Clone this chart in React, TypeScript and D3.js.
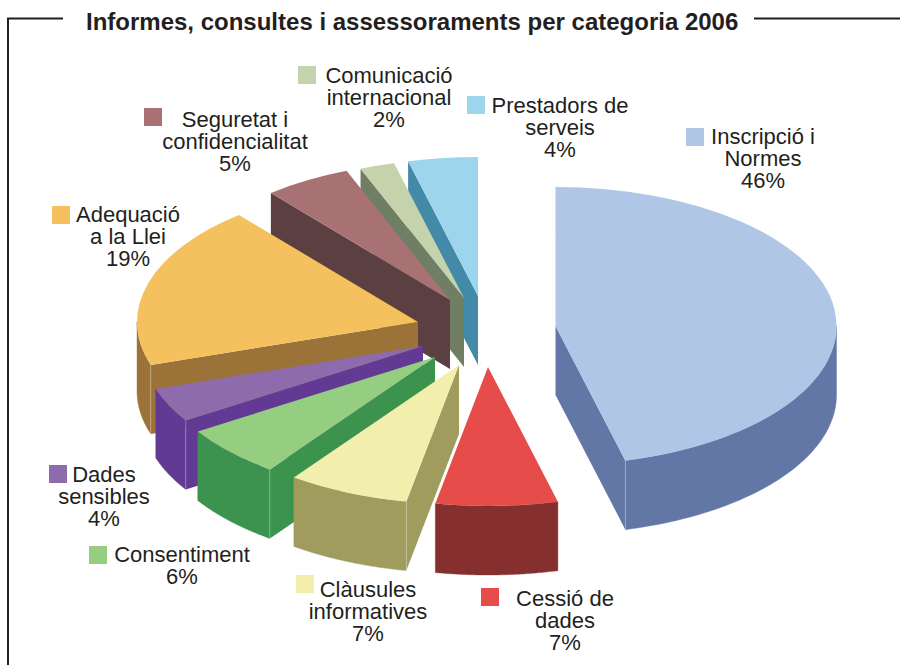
import React from 'react';
import * as d3 from 'd3';

const titleText = 'Informes, consultes i assessoraments per categoria 2006';
const categories = ['Inscripció i Normes', 'Cessió de dades', 'Clàusules informatives', 'Consentiment', 'Dades sensibles', 'Adequació a la Llei', 'Seguretat i confidencialitat', 'Comunicació internacional', 'Prestadors de serveis'];
const shares = [46, 7, 7, 6, 4, 19, 5, 2, 4];
const topColors = ['#b0c6e6', '#e64c4a', '#f2efac', '#95ce80', '#8d6bad', '#f4c15e', '#a87274', '#c5d3ad', '#9dd5ec'];
const wallColors = ['#6377a6', '#85302e', '#a09c5e', '#3b934e', '#623a93', '#9b7338', '#5c3f41', '#707f63', '#428aa8'];
const labelLines = [
  ['Inscripció i', 'Normes', '46%'],
  ['Cessió de', 'dades', '7%'],
  ['Clàusules', 'informatives', '7%'],
  ['Consentiment', '6%'],
  ['Dades', 'sensibles', '4%'],
  ['Adequació', 'a la Llei', '19%'],
  ['Seguretat i', 'confidencialitat', '5%'],
  ['Comunicació', 'internacional', '2%'],
  ['Prestadors de', 'serveis', '4%'],
];

// layout
const apexX = [555.5, 488, 459, 435, 423, 418, 450, 464, 478];
const apexY = [326, 367, 365, 357, 346, 322, 300, 298, 296];
const swatchX = [686, 481, 296, 89, 49, 52, 144, 298, 467];
const swatchY = [128, 588, 575, 546, 465, 206, 108, 66, 96];
const labelX = [763, 565, 368, 182, 104, 128, 235, 389, 560];
const labelY = [144, 606, 597, 562, 482, 222, 127, 83, 113];
const RX = 281, RY = 139, DEPTH = 69, LINE = 22;
const paintOrder = [8, 7, 6, 5, 4, 3, 2, 1, 0];
const FONT = '"Liberation Sans", Arial, sans-serif';

const px = (i: number, a: number) => apexX[i] + RX * Math.sin(a);
const py = (i: number, a: number) => apexY[i] - RY * Math.cos(a);

export default function App() {
  const pie = d3.pie<number>().sort(null).value((d) => d);
  const arcs = pie(shares);
  const arcGen = d3.arc<any>().innerRadius(0).outerRadius(RX);

  const slice = (k: number) => {
    const i = k;
    const { startAngle: a0, endAngle: a1 } = arcs[i];
    const parts: React.ReactNode[] = [];
    const line = d3.line<[number, number]>();
    const ax = apexX[i], ay = apexY[i];
    const wallFill = wallColors[i];
    // radial side walls that face the viewer
    if (Math.sin(a0) < 0) {
      const p: [number, number][] = [[ax, ay], [px(i, a0), py(i, a0)], [px(i, a0), py(i, a0) + DEPTH], [ax, ay + DEPTH]];
      parts.push(<path key="w0" d={line(p) + 'Z'} fill={wallFill} />);
    }
    if (Math.sin(a1) > 0) {
      const p: [number, number][] = [[ax, ay], [px(i, a1), py(i, a1)], [px(i, a1), py(i, a1) + DEPTH], [ax, ay + DEPTH]];
      parts.push(<path key="w1" d={line(p) + 'Z'} fill={wallFill} />);
    }
    // outer curved wall, front half only
    const from = Math.max(a0, Math.PI / 2);
    const to = Math.min(a1, (3 * Math.PI) / 2);
    if (to > from) {
      const angles = d3.range(0, 61).map((n) => from + ((to - from) * n) / 60);
      const area = d3.area<number>().x((a) => px(i, a)).y0((a) => py(i, a)).y1((a) => py(i, a) + DEPTH);
      parts.push(<path key="o" d={area(angles) ?? ''} fill={wallFill} stroke={wallFill} strokeWidth={0.4} />);
      // pale hairline where curved wall meets the flat wall
      [a0, a1].forEach((a, n) => {
        if (a >= Math.PI / 2 && a <= (3 * Math.PI) / 2 && ((n === 0 && Math.sin(a) < 0) || (n === 1 && Math.sin(a) > 0))) {
          parts.push(
            <line key={'h' + n} x1={px(i, a)} x2={px(i, a)} y1={py(i, a)} y2={py(i, a) + DEPTH} stroke="#fff" strokeOpacity={0.35} strokeWidth={0.8} />
          );
        }
      });
    }
    parts.push(
      <path key="t" transform={`translate(${ax},${ay}) scale(1,${RY / RX})`} d={arcGen(arcs[i]) ?? ''} fill={topColors[i]} />
    );
    return <g key={categories[i]}>{parts}</g>;
  };

  return (
    <svg width={900} height={665} viewBox="0 0 900 665" style={{ position: 'absolute', left: 0, top: 0, background: '#fff' }}>
      <path d="M8 665V18.5H63" fill="none" stroke="#231f20" strokeWidth={2} />
      <path d="M754 18.5H900" fill="none" stroke="#231f20" strokeWidth={2} />
      <text x={86} y={30} fontFamily={FONT} fontWeight={700} fontSize={24} fill="#231f20">{titleText}</text>
      {paintOrder.map(slice)}
      {categories.map((c, i) => (
        <g key={c}>
          <rect x={swatchX[i]} y={swatchY[i]} width={18} height={18} fill={topColors[i]} />
          <text x={labelX[i]} y={labelY[i]} textAnchor="middle" fontFamily={FONT} fontSize={22} fill="#231f20">
            {labelLines[i].map((t, n) => (
              <tspan key={n} x={labelX[i]} y={labelY[i] + n * LINE}>{t}</tspan>
            ))}
          </text>
        </g>
      ))}
    </svg>
  );
}
